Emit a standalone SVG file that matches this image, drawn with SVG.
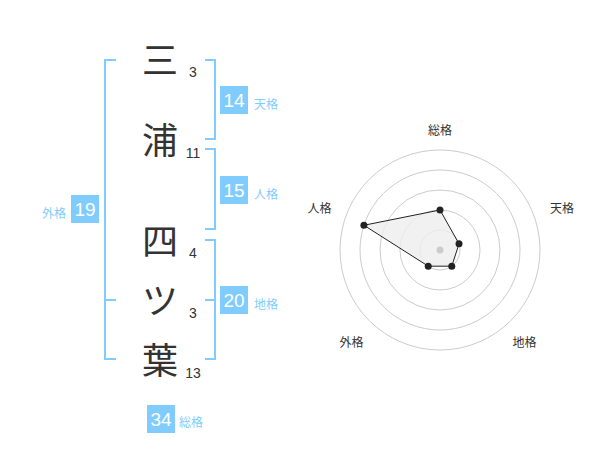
<svg xmlns="http://www.w3.org/2000/svg" width="600" height="470" viewBox="0 0 600 470">
<style>
.ch{font-family:"Noto Sans CJK JP","Noto Sans CJK SC",sans-serif;font-size:36px;fill:#333;text-anchor:middle}
.num{font-family:"Liberation Sans",Arial,sans-serif;font-size:14px;fill:#333;text-anchor:middle}
.box{fill:#80ccff}
.bn{font-family:"Liberation Sans",Arial,sans-serif;font-size:19px;fill:#fff;text-anchor:middle}
.bl{font-family:"Noto Sans CJK JP","Noto Sans CJK SC",sans-serif;font-size:12px;fill:#80ccff}
.br{fill:none;stroke:#80ccff;stroke-width:2}
.ring{fill:none;stroke:#cccccc;stroke-width:1}
.rl{font-family:"Noto Sans CJK JP","Noto Sans CJK SC",sans-serif;font-size:12px;fill:#333;text-anchor:middle}
.pt{fill:#222}
</style>
<rect width="600" height="470" fill="#ffffff"/>
<g id="characters">
<g id="c1"><text class="ch" x="160" y="73.5">三</text><text class="num" x="193" y="77">3</text></g>
<g id="c2"><text class="ch" x="160" y="153.5">浦</text><text class="num" x="193" y="158">11</text></g>
<g id="c3"><text class="ch" x="160" y="255">四</text><text class="num" x="193" y="258">4</text></g>
<g id="c4"><text class="ch" x="160" y="314">ツ</text><text class="num" x="193" y="318">3</text></g>
<g id="c5"><text class="ch" x="160" y="373.5">葉</text><text class="num" x="193" y="378">13</text></g>
</g>
<g id="connectors">
<path class="br" d="M116,60 H105 V359 H116 M105,300 H116"/>
<path class="br" d="M205,60 H215 V139 H205"/>
<path class="br" d="M205,149 H215 V229 H205"/>
<path class="br" d="M205,240 H215 V359 H205 M215,300 H205"/>
</g>
<g id="tenkaku"><rect class="box" x="220" y="86" width="28" height="28"/><text class="bn" x="234" y="107">14</text><text class="bl" x="254" y="109">天格</text></g>
<g id="jinkaku"><rect class="box" x="220" y="176" width="28" height="28"/><text class="bn" x="234" y="197">15</text><text class="bl" x="254" y="199">人格</text></g>
<g id="chikaku"><rect class="box" x="220" y="286" width="28" height="28"/><text class="bn" x="234" y="307">20</text><text class="bl" x="254" y="309">地格</text></g>
<g id="gaikaku"><rect class="box" x="71" y="195" width="28" height="28"/><text class="bn" x="85" y="216">19</text><text class="bl" x="42" y="218">外格</text></g>
<g id="soukaku"><rect class="box" x="147" y="405" width="28" height="28"/><text class="bn" x="161" y="426">34</text><text class="bl" x="179" y="427">総格</text></g>
<g id="radar">
<circle class="ring" cx="440" cy="250" r="20"/>
<circle class="ring" cx="440" cy="250" r="40"/>
<circle class="ring" cx="440" cy="250" r="60"/>
<circle class="ring" cx="440" cy="250" r="80"/>
<circle class="ring" cx="440" cy="250" r="100"/>
<polygon points="440,210 459.02,243.82 451.76,266.18 428.24,266.18 363.92,225.28" fill="#eeeeee" fill-opacity="0.8" stroke="#222" stroke-width="1"/>
<circle cx="440" cy="250" r="3.5" fill="#cccccc"/>
<circle class="pt" cx="440" cy="210" r="3.5"/>
<circle class="pt" cx="459.02" cy="243.82" r="3.5"/>
<circle class="pt" cx="451.76" cy="266.18" r="3.5"/>
<circle class="pt" cx="428.24" cy="266.18" r="3.5"/>
<circle class="pt" cx="363.92" cy="225.28" r="3.5"/>
<text class="rl" x="440" y="135">総格</text>
<text class="rl" x="562" y="213">天格</text>
<text class="rl" x="319.5" y="213">人格</text>
<text class="rl" x="351.5" y="347">外格</text>
<text class="rl" x="524.5" y="347">地格</text>
</g>
</svg>
